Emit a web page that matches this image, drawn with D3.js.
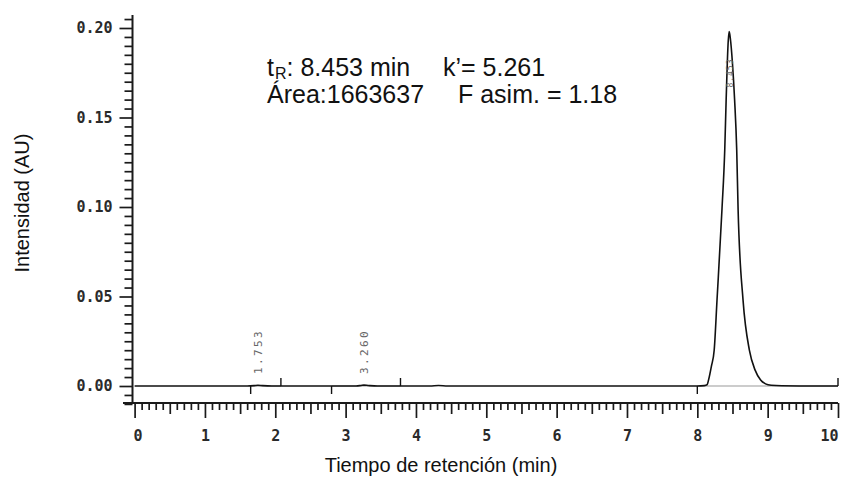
<!DOCTYPE html>
<html>
<head>
<meta charset="utf-8">
<script src="https://cdn.jsdelivr.net/npm/d3@7"></script>
<style>
  html, body { margin: 0; padding: 0; background: #fff; }
  svg { display: block; }
  .tick-label { font-family: 'DejaVu Sans Mono', 'Liberation Mono', monospace; font-size: 15px; font-weight: bold; fill: #2a2a2a; }
</style>
</head>
<body>
<svg id="chart" width="843" height="477"></svg>
<script>
// Chromatogram signal (retention time in min, absorbance in AU)
const signalTime = [
  0, 0.8, 1.60, 1.70, 1.753, 1.82, 1.95, 2.6,
  3.15, 3.22, 3.26, 3.32, 3.45, 4.20, 4.32, 4.45, 6.0, 7.5,
  8.00, 8.10, 8.14, 8.16, 8.20, 8.24, 8.28, 8.35, 8.39, 8.41, 8.44, 8.453,
  8.47, 8.50, 8.53, 8.56, 8.58, 8.65, 8.74, 8.82, 8.90, 8.97, 9.05, 9.20, 9.6, 10.0
];
const signalAU = [
  0, 0, 0, 0.0002, 0.0004, 0.0002, 0, 0,
  0, 0.0003, 0.0005, 0.0003, 0, 0, 0.0003, 0, 0, 0,
  0, 0.0002, 0.0008, 0.0034, 0.0110, 0.0201, 0.0480, 0.0983, 0.1320, 0.1600, 0.1930, 0.1980,
  0.1940, 0.1800, 0.1600, 0.1320, 0.0983, 0.0480, 0.0201, 0.0090, 0.0034, 0.0012, 0.0004, 0.0001, 0, 0
];

// Integrated peaks: labels, apex times, integration windows
const peakLabels = ["1.753", "3.260", "8.453"];
const peakApex = [1.753, 3.260, 8.453];
const peakApexAU = [0.0004, 0.0005, 0.198];
const windowStart = [1.65, 2.80, 8.00];
const windowEnd = [2.08, 3.78, 10.0];

// Axis ticks
const xTicks = [0, 1, 2, 3, 4, 5, 6, 7, 8, 9, 10];
const yTicks = [0.00, 0.05, 0.10, 0.15, 0.20];

const svg = d3.select("#chart");

const x = d3.scaleLinear().domain([0, 10]).range([134.6, 838]);
const y = d3.scaleLinear().domain([0, 0.2]).range([386, 28]);

const axisColor = "#1a1a1a";
const monoFont = "'DejaVu Sans Mono', 'Liberation Mono', monospace";
const sansFont = "'Liberation Sans', Arial, Helvetica, sans-serif";

const xAxisY = y(-0.0095);
const yAxisX = 132.5;

// ---- Y axis ----
const yMinor = d3.range(-0.01, 0.2051, 0.005)
  .map(v => +v.toFixed(3))
  .filter(v => !yTicks.some(t => Math.abs(t - v) < 1e-9));

const gyMinor = svg.append("g").attr("transform", `translate(${yAxisX},0)`)
  .call(d3.axisLeft(y).tickValues(yMinor).tickSize(8).tickSizeOuter(0).tickFormat(""));
const gyMajor = svg.append("g").attr("transform", `translate(${yAxisX},0)`)
  .call(d3.axisLeft(y).tickValues(yTicks).tickSize(13).tickSizeOuter(0).tickPadding(7)
    .tickFormat(d3.format(".2f")));
[gyMinor, gyMajor].forEach(g => {
  g.select(".domain").remove();
  g.selectAll("line").attr("stroke", axisColor).attr("stroke-width", 1.7);
});
gyMajor.attr("font-size", null).attr("font-family", null);
gyMajor.selectAll("text").attr("class", "tick-label").attr("fill", null);

svg.append("line")
  .attr("x1", yAxisX).attr("x2", yAxisX)
  .attr("y1", y(0.2073)).attr("y2", xAxisY)
  .attr("stroke", axisColor).attr("stroke-width", 2);

// ---- X axis ----
const xMinor = d3.range(0, 10.001, 0.1).map(v => +v.toFixed(1))
  .filter(v => Math.abs(v - Math.round(v)) > 1e-9 && Math.abs(v * 2 - Math.round(v * 2)) > 1e-9);
const xHalf = d3.range(0.5, 10, 1);

function bottomAxis(values, size, fmt) {
  const g = svg.append("g").attr("transform", `translate(0,${xAxisY})`)
    .call(d3.axisBottom(x).tickValues(values).tickSize(size).tickSizeOuter(0)
      .tickPadding(12).tickFormat(fmt));
  g.select(".domain").remove();
  g.selectAll("line").attr("stroke", axisColor).attr("stroke-width", 1.7);
  return g;
}
bottomAxis(xMinor, 7, "");
bottomAxis(xHalf, 11, "");
const gxMajor = bottomAxis(xTicks, 15, d3.format("d"));
gxMajor.attr("font-size", null).attr("font-family", null);
gxMajor.selectAll("text")
  .attr("class", "tick-label").attr("fill", null)
  .attr("dx", d => d === 0 ? 3 : 0)
  .attr("text-anchor", d => d === 10 ? "end" : "middle");

svg.append("line")
  .attr("x1", 123).attr("x2", x(10))
  .attr("y1", xAxisY).attr("y2", xAxisY)
  .attr("stroke", axisColor).attr("stroke-width", 2);

// ---- Integration baselines and window markers ----
windowStart.forEach((s, i) => {
  svg.append("line")
    .attr("x1", x(s)).attr("x2", x(windowEnd[i]))
    .attr("y1", y(0)).attr("y2", y(0))
    .attr("stroke", "#999").attr("stroke-width", 1);
  svg.append("line")
    .attr("x1", x(s)).attr("x2", x(s))
    .attr("y1", y(0)).attr("y2", y(0) + 8)
    .attr("stroke", "#111").attr("stroke-width", 1.4);
  svg.append("line")
    .attr("x1", x(windowEnd[i])).attr("x2", x(windowEnd[i]))
    .attr("y1", y(0)).attr("y2", y(0) - 8)
    .attr("stroke", "#111").attr("stroke-width", 1.4);
});

// ---- Signal trace ----
const signal = signalTime.map((t, i) => [t, signalAU[i]]);
svg.append("path")
  .datum(signal)
  .attr("fill", "none")
  .attr("stroke", "#111")
  .attr("stroke-width", 1.6)
  .attr("stroke-linejoin", "round")
  .attr("d", d3.line().x(d => x(d[0])).y(d => y(d[1])).curve(d3.curveMonotoneX));

// ---- Peak retention-time labels ----
peakLabels.forEach((lab, i) => {
  const big = peakApexAU[i] > 0.05;
  const px = x(peakApex[i]) + 4;
  const py = big ? y(peakApexAU[i]) + 56 : y(0) - 12;
  svg.append("text")
    .attr("transform", `translate(${px},${py}) rotate(-90)`)
    .attr("font-family", monoFont)
    .attr("font-size", big ? 8 : 11)
    .attr("letter-spacing", big ? 1 : 2.4)
    .attr("fill", "#666")
    .text(lab);
});

// ---- Peak parameters ----
const ann = svg.append("g")
  .attr("font-family", sansFont).attr("font-size", 25).attr("fill", "#111");
// t with subscript R, laid out as consecutive text runs
const tMain = ann.append("text").attr("x", 267).attr("y", 76).text("t");
const tEnd = 267 + tMain.node().getComputedTextLength();
const tSub = ann.append("text").attr("x", tEnd + 1).attr("y", 79)
  .attr("font-size", 16).text("R");
const subEnd = tEnd + 1 + tSub.node().getComputedTextLength();
ann.append("text").attr("x", subEnd).attr("y", 76).text(": 8.453 min");
ann.append("text").attr("x", 443).attr("y", 76).text("k\u2019= 5.261");
ann.append("text").attr("x", 267).attr("y", 103).text("\u00c1rea:1663637");
ann.append("text").attr("x", 458).attr("y", 103).text("F asim. = 1.18");

// ---- Axis titles ----
svg.append("text")
  .attr("x", 441).attr("y", 472)
  .attr("text-anchor", "middle")
  .attr("font-family", sansFont).attr("font-size", 20).attr("fill", "#111")
  .text("Tiempo de retención (min)");
svg.append("text")
  .attr("transform", "translate(29,203) rotate(-90)")
  .attr("text-anchor", "middle")
  .attr("font-family", sansFont).attr("font-size", 20).attr("fill", "#111")
  .text("Intensidad (AU)");
</script>
</body>
</html>
